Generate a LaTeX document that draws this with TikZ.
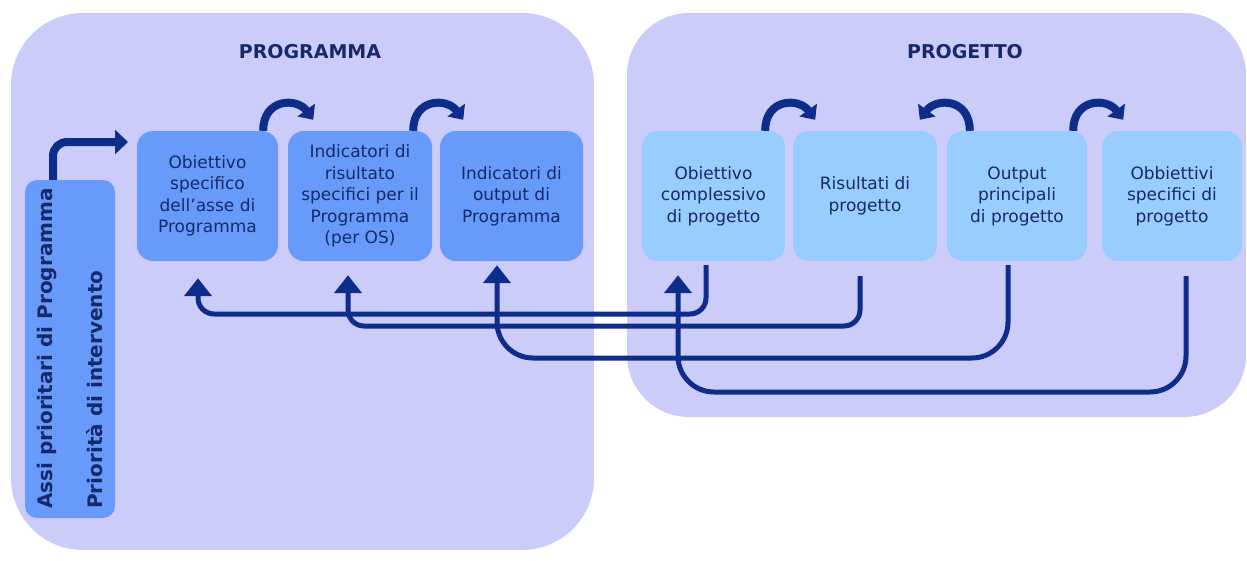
\documentclass[tikz,border=0pt]{standalone}
\usepackage{fontspec}
\setmainfont{DejaVu Sans}
\usetikzlibrary{arrows.meta,calc}
\definecolor{panel}{RGB}{204,204,250}
\definecolor{progbox}{RGB}{104,154,252}
\definecolor{projbox}{RGB}{153,204,255}
\definecolor{navy}{RGB}{14,44,138}
\definecolor{txt}{RGB}{22,42,105}
\begin{document}
\begin{tikzpicture}[x=1pt,y=-1pt,
  panelbox/.style={fill=panel, draw=none, rounded corners=72pt, inner sep=0pt},
  boxbase/.style={draw=none, rounded corners=16pt, text=txt, align=center, inner sep=0pt,
    font=\fontsize{17}{21.5}\selectfont, minimum height=130pt},
  pbox/.style={boxbase, fill=progbox},
  jbox/.style={boxbase, fill=projbox},
  ttl/.style={font=\fontsize{19}{22}\selectfont\bfseries, text=txt, inner sep=0pt},
  vtext/.style={font=\fontsize{20}{22}\selectfont\bfseries, text=txt, inner sep=0pt, rotate=90, anchor=west},
  arcarrow/.style={navy, line width=8pt, -{Triangle[width=21pt,length=12pt]}},
  bentarrow/.style={navy, line width=8pt, rounded corners=14pt, -{Triangle[width=24pt,length=13pt]}},
  link/.style={navy, line width=5pt, -{Triangle[width=27pt,length=18pt]}},
]
\useasboundingbox (0,0) rectangle (1247,560);

% panels
\node[panelbox, minimum width=583pt, minimum height=537pt] (prog) at (302.5,281.5) {};
\node[panelbox, rounded corners=62pt, minimum width=619pt, minimum height=404pt] (proj) at (936.5,215) {};

\node[ttl] (progtitle) at (310,52) {PROGRAMMA};
\node[ttl] (projtitle) at (965,52) {PROGETTO};

% programme boxes
\node[pbox, minimum width=141pt] (b1) at (207.5,196) {Obiettivo\\specifico\\dell’asse di\\Programma};
\node[pbox, minimum width=144pt] (b2) at (360,196) {Indicatori di\\risultato\\specifici per il\\Programma\\(per OS)};
\node[pbox, minimum width=143pt] (b3) at (511.5,196) {Indicatori di\\output di\\Programma};

% project boxes
\node[jbox, minimum width=143pt] (p1) at (713.5,196) {Obiettivo\\complessivo\\di progetto};
\node[jbox, minimum width=144pt] (p2) at (865,196) {Risultati di\\progetto};
\node[jbox, minimum width=140pt] (p3) at (1017,196) {Output\\principali\\di progetto};
\node[jbox, minimum width=140pt] (p4) at (1172,196) {Obbiettivi\\specifici di\\progetto};

% vertical box
\node[pbox, rounded corners=12pt, minimum width=90pt, minimum height=338pt] (assi) at (70,349) {};
\node[vtext] (assi1) at (47,509) {Assi prioritari di Programma};
\node[vtext] (assi2) at (95,509) {Priorità di intervento};

% bent arrow
\coordinate (bentend) at (128,142);
\draw[bentarrow] ([xshift=-17pt]assi.north) |- (bentend);

% curved arrows above boxes
\coordinate (a1) at ([xshift=-15pt]b1.north east);
\coordinate (a2) at ([xshift=-19pt]b2.north east);
\coordinate (a3) at ([xshift=-20pt]p1.north east);
\coordinate (a4) at ([xshift=23pt]p3.north west);
\coordinate (a5) at ([xshift=-14pt]p3.north east);
\draw[arcarrow] (a1) .. controls ($(a1)+(0,-33)$) and ($(a1)+(34,-33)$) .. ($(a1)+(50,-11)$);
\draw[arcarrow] (a2) .. controls ($(a2)+(0,-33)$) and ($(a2)+(34,-33)$) .. ($(a2)+(50,-11)$);
\draw[arcarrow] (a3) .. controls ($(a3)+(0,-33)$) and ($(a3)+(34,-33)$) .. ($(a3)+(50,-11)$);
\draw[arcarrow] (a4) .. controls ($(a4)+(0,-33)$) and ($(a4)+(-34,-33)$) .. ($(a4)+(-50,-11)$);
\draw[arcarrow] (a5) .. controls ($(a5)+(0,-33)$) and ($(a5)+(34,-33)$) .. ($(a5)+(50,-11)$);

% links back to programme
\coordinate (L1) at (0,314);
\coordinate (L2) at (0,326);
\coordinate (L3) at (0,358);
\coordinate (L4) at (0,392);
\coordinate (t1) at ([xshift=-9.5pt,yshift=-17pt]b1.south);
\coordinate (t2) at ([xshift=-12pt,yshift=-14pt]b2.south);
\coordinate (t3) at ([xshift=-14.5pt,yshift=-4pt]b3.south);
\coordinate (t4) at ([xshift=-35.5pt,yshift=-14pt]p1.south);

\draw[link, rounded corners=16pt] ([xshift=-7.5pt,yshift=-4pt]p1.south) |- (t1 |- L1) -- (t1);
\draw[link, rounded corners=16pt] ([xshift=-5pt,yshift=-15pt]p2.south) |- (t2 |- L2) -- (t2);
\draw[link, rounded corners=36pt] ([xshift=-9pt,yshift=-4pt]p3.south) |- (t3 |- L3) -- (t3);
\draw[link, rounded corners=36pt] ([xshift=14pt,yshift=-15pt]p4.south) |- (t4 |- L4) -- (t4);
\end{tikzpicture}
\end{document}
